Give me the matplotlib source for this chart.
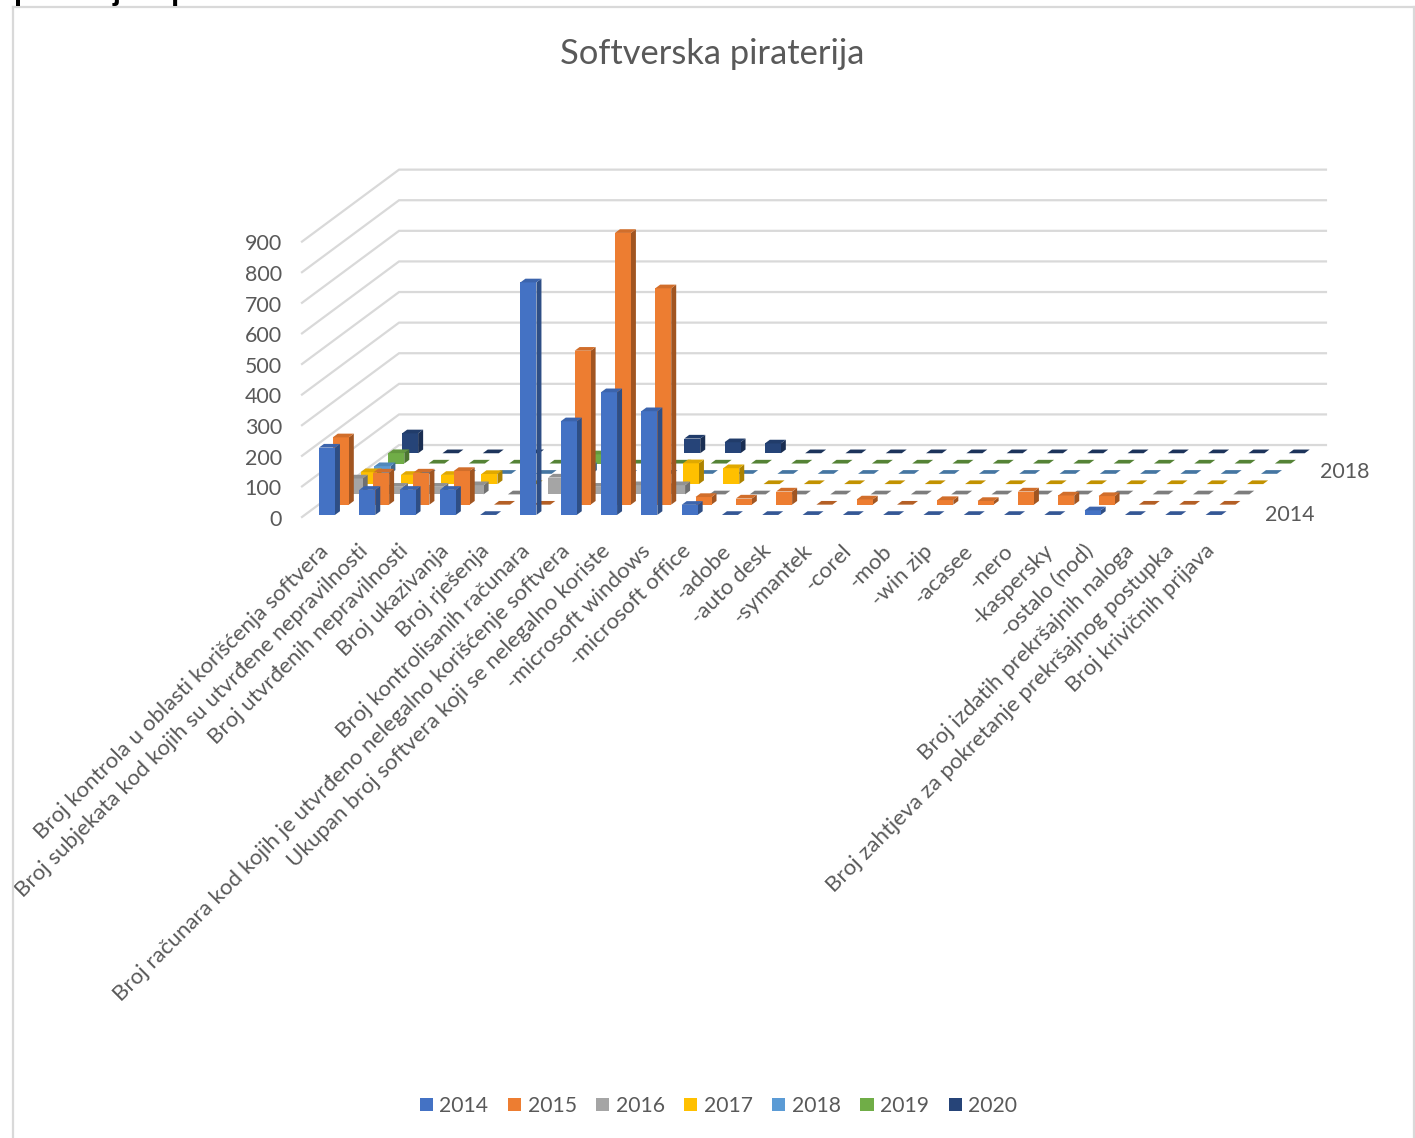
"""3D-style column chart of software piracy inspections, drawn as an oblique projection."""

import matplotlib

matplotlib.use("Agg")
import matplotlib.pyplot as plt
from matplotlib.lines import Line2D
from matplotlib.patches import Patch

plt.rcParams["font.family"] = ["Lato", "DejaVu Sans"]

categories = [
    "Broj kontrola u oblasti korišćenja softvera",
    "Broj subjekata kod kojih su utvrđene nepravilnosti",
    "Broj utvrđenih nepravilnosti",
    "Broj ukazivanja",
    "Broj rješenja",
    "Broj kontrolisanih računara",
    "Broj računara kod kojih je utvrđeno nelegalno korišćenje softvera",
    "Ukupan broj softvera koji se nelegalno koriste",
    "-microsoft windows",
    "-microsoft office",
    "-adobe",
    "-auto desk",
    "-symantek",
    "-corel",
    "-mob",
    "-win zip",
    "-acasee",
    "-nero",
    "-kaspersky",
    "-ostalo (nod)",
    "Broj izdatih prekršajnih naloga",
    "Broj zahtjeva za pokretanje prekršajnog postupka",
    "Broj krivičnih prijava",
]

years = ["2014", "2015", "2016", "2017", "2018", "2019", "2020"]
y_ticks = [0, 100, 200, 300, 400, 500, 600, 700, 800, 900]

v2014 = [220, 82, 82, 82, 0, 760, 306, 401, 339, 33, 0, 0, 0, 0, 0, 0, 0, 0, 0, 15, 0, 0, 0]
v2015 = [220, 105, 105, 110, 0, 0, 503, 888, 707, 25, 20, 43, 0, 17, 0, 15, 12, 43, 30, 28, 0, 0, 0]
v2016 = [52, 25, 25, 30, 0, 55, 25, 30, 30, 0, 0, 0, 0, 0, 0, 0, 0, 0, 0, 0, 0, 0, 0]
v2017 = [39, 30, 30, 33, 0, 0, 0, 0, 68, 52, 0, 0, 0, 0, 0, 0, 0, 0, 0, 0, 0, 0, 0]
v2018 = [25, 0, 0, 0, 0, 25, 0, 0, 0, 0, 0, 0, 0, 0, 0, 0, 0, 0, 0, 0, 0, 0, 0]
v2019 = [34, 0, 0, 0, 0, 30, 0, 0, 0, 0, 0, 0, 0, 0, 0, 0, 0, 0, 0, 0, 0, 0, 0]
v2020 = [65, 0, 0, 0, 0, 0, 0, 48, 36, 32, 0, 0, 0, 0, 0, 0, 0, 0, 0, 0, 0, 0, 0]
series = [v2014, v2015, v2016, v2017, v2018, v2019, v2020]

colors = ["#4472C4", "#ED7D31", "#A5A5A5", "#FFC000", "#5B9BD5", "#70AD47", "#264478"]

TEXT = "#595959"
GRID = "#D9D9D9"

# oblique projection: one series step back moves the bar right and up
DEPTH_DX = 0.344
DEPTH_DY = 33.6
BAR_LEFT = 0.352
BAR_W = 0.397
BAR_D = 0.36
FRONT = 0.2


def project(cat, depth, value):
    return cat + depth * DEPTH_DX, value + depth * DEPTH_DY


def shade(color, k):
    r, g, b = matplotlib.colors.to_rgb(color)
    return (r * k, g * k, b * k)


def draw_bar(ax, cat, s, value, color):
    x0 = cat + BAR_LEFT
    x1 = x0 + BAR_W
    d0 = s + FRONT
    d1 = d0 + BAR_D
    top = [project(x0, d0, value), project(x1, d0, value), project(x1, d1, value), project(x0, d1, value)]
    if value <= 0:
        ax.fill(*zip(*top), color=shade(color, 0.76), lw=0)
        return
    front = [project(x0, d0, 0), project(x1, d0, 0), project(x1, d0, value), project(x0, d0, value)]
    side = [project(x1, d0, 0), project(x1, d1, 0), project(x1, d1, value), project(x1, d0, value)]
    ax.fill(*zip(*side), color=shade(color, 0.68), lw=0)
    ax.fill(*zip(*front), color=color, lw=0)
    ax.fill(*zip(*top), color=shade(color, 0.88), lw=0)


W, H = 1415, 1138
fig = plt.figure(figsize=(W / 100, H / 100), dpi=100)
ax = fig.add_axes([0, 0, 1, 1])

# pixels per category and per value unit, origin at the front left floor corner
PX_CAT = 40.3
PX_VAL = 0.306
X0, Y0 = 302, 517
ax.set_xlim(-X0 / PX_CAT, (W - X0) / PX_CAT)
ax.set_ylim((Y0 - H) / PX_VAL, Y0 / PX_VAL)
ax.axis("off")

# walls, below the bars
n_cat = len(categories)
n_ser = len(series)
for t in y_ticks:
    xs, ys = zip(project(0, 0, t), project(0, n_ser, t), project(n_cat, n_ser, t))
    ax.plot(xs, ys, color=GRID, lw=1.6, solid_joinstyle="miter", zorder=0)
    ax.text(-0.5, t - 9, str(t), ha="right", va="center", fontsize=15.4, color=TEXT)

# back series first so the front ones cover them
for s in range(n_ser - 1, -1, -1):
    for c in range(n_cat):
        draw_bar(ax, c, s, series[s][c], colors[s])

for i, name in enumerate(categories):
    ax.text(i + 0.57, -101, name, rotation=45, rotation_mode="anchor", ha="right", va="center",
            fontsize=16, color=TEXT)

# depth axis labels
ax.text(24.5, 6, "2014", ha="center", va="center", fontsize=15.4, color=TEXT)
ax.text(25.87, 147, "2018", ha="center", va="center", fontsize=15.4, color=TEXT)

fig.text(712 / W, 1 - 54 / H, "Softverska piraterija", ha="center", va="center", fontsize=24.8, color=TEXT)

# cropped heading of the page above the chart
fig.text(14 / W, 1.0, "piraterija u periodu 2014-2020", ha="left", va="baseline", fontsize=21,
         fontweight="bold", family="Liberation Sans", color="black")

# chart frame
for xs, ys in [((12.5, 12.5), (H, 7)), ((12.5, 1414), (7, 7)), ((1414, 1414), (7, H))]:
    fig.add_artist(Line2D([x / W for x in xs], [1 - y / H for y in ys], color=GRID, lw=1.6))

handles = [Patch(facecolor=c, label=y) for c, y in zip(colors, years)]
fig.legend(handles=handles, loc="center", bbox_to_anchor=(718.5 / W, 1 - 1106 / H), ncol=7, frameon=False,
           fontsize=15.2, labelcolor=TEXT, handlelength=0.62, handleheight=0.62, handletextpad=0.3,
           columnspacing=0.93)

fig.savefig("out.png", dpi=100)
